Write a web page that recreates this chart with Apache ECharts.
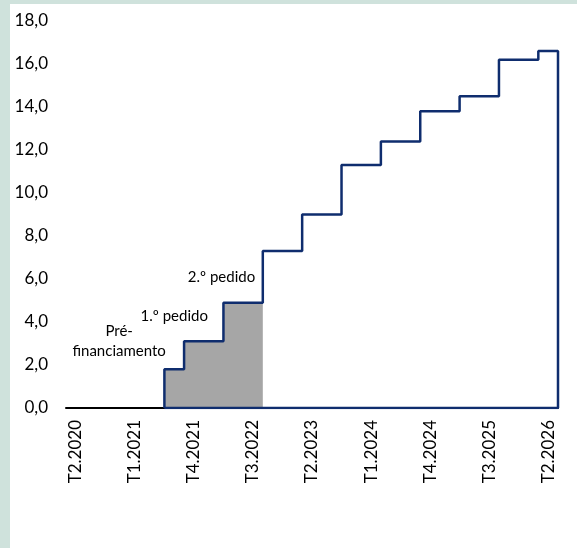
<!DOCTYPE html>
<html>
<head>
<meta charset="utf-8">
<script src="https://cdn.jsdelivr.net/npm/echarts@6/dist/echarts.min.js"></script>
<style>
  html, body { margin: 0; padding: 0; background: #cfe2dc; }
  #chart { position: absolute; left: 10px; top: 4px; width: 567px; height: 544px; background: #fff; }
</style>
</head>
<body>
<div id="chart"></div>
<script>
// quarters shown on the x axis (one value per quarter)
const quarters = [
  'T2.2020', 'T3.2020', 'T4.2020',
  'T1.2021', 'T2.2021', 'T3.2021', 'T4.2021',
  'T1.2022', 'T2.2022', 'T3.2022', 'T4.2022',
  'T1.2023', 'T2.2023', 'T3.2023', 'T4.2023',
  'T1.2024', 'T2.2024', 'T3.2024', 'T4.2024',
  'T1.2025', 'T2.2025', 'T3.2025', 'T4.2025',
  'T1.2026', 'T2.2026'
]

// cumulative amount per quarter
const cumulative = [
  0, 0, 0, 0, 0,
  1.8, 3.1, 3.1, 4.9, 4.9,
  7.3, 7.3, 9.0, 9.0, 11.3, 11.3,
  12.4, 12.4, 13.8, 13.8, 14.5, 14.5,
  16.2, 16.2, 16.6
]

// quarters already received (shaded): index range [start, end)
const receivedRange = [5, 10]

const yTicks = { min: 0, max: 18, interval: 2 }

// text annotations, placed in data units (quarter index, value)
const notes = [
  { text: 'Pré-\nfinanciamento', at: [2.7, 3.1] },
  { text: '1.º pedido', at: [5.5, 4.25] },
  { text: '2.º pedido', at: [7.9, 6.1] }
]

const font = 'Lato, "Liberation Sans", sans-serif'
const navy = '#0f2d6e'

// step line points on a continuous quarter scale (step drawn on quarter boundaries)
const first = cumulative.findIndex(v => v > 0)
const n = cumulative.length
const linePoints = [[first, 0]]
for (let i = first; i < n; i++) linePoints.push([i, cumulative[i]])
linePoints.push([n, cumulative[n - 1]])
linePoints.push([n, 0])
linePoints.push([first, 0])

const areaPoints = []
for (let i = receivedRange[0]; i < receivedRange[1]; i++) areaPoints.push([i, cumulative[i]])
areaPoints.push([receivedRange[1], cumulative[receivedRange[1] - 1]])

const chart = echarts.init(document.getElementById('chart'))

chart.setOption({
  animation: false,
  textStyle: { fontFamily: font },
  grid: { left: 56, right: 19, top: 17, bottom: 140, containLabel: false },
  xAxis: [
    {
      type: 'category',
      data: quarters,
      boundaryGap: true,
      axisLine: { show: true, lineStyle: { color: '#000', width: 2 } },
      axisTick: { show: false },
      axisLabel: {
        interval: 2,
        rotate: 90,
        margin: 12,
        color: '#000',
        fontSize: 17,
        fontFamily: font
      },
      splitLine: { show: false }
    },
    {
      type: 'value',
      min: 0,
      max: n,
      show: false
    }
  ],
  yAxis: {
    type: 'value',
    min: yTicks.min,
    max: yTicks.max,
    interval: yTicks.interval,
    axisLine: { show: false },
    axisTick: { show: false },
    splitLine: { show: false },
    axisLabel: {
      margin: 18,
      color: '#000',
      fontSize: 17,
      fontFamily: font,
      formatter: v => v.toFixed(1).replace('.', ',')
    }
  },
  series: [
    {
      type: 'line',
      xAxisIndex: 1,
      step: 'end',
      data: areaPoints,
      symbol: 'none',
      lineStyle: { width: 0 },
      areaStyle: { color: '#a6a6a6', opacity: 1 },
      z: 1,
      markPoint: {
        symbol: 'circle',
        symbolSize: 0,
        label: {
          show: true,
          position: 'inside',
          color: '#000',
          fontSize: 15,
          lineHeight: 20,
          fontFamily: font,
          formatter: p => p.name
        },
        data: notes.map(d => ({ name: d.text, coord: d.at }))
      }
    },
    {
      type: 'line',
      xAxisIndex: 1,
      step: 'end',
      data: linePoints,
      symbol: 'none',
      lineStyle: { color: navy, width: 2.5 },
      z: 3
    }
  ]
})
</script>
</body>
</html>
